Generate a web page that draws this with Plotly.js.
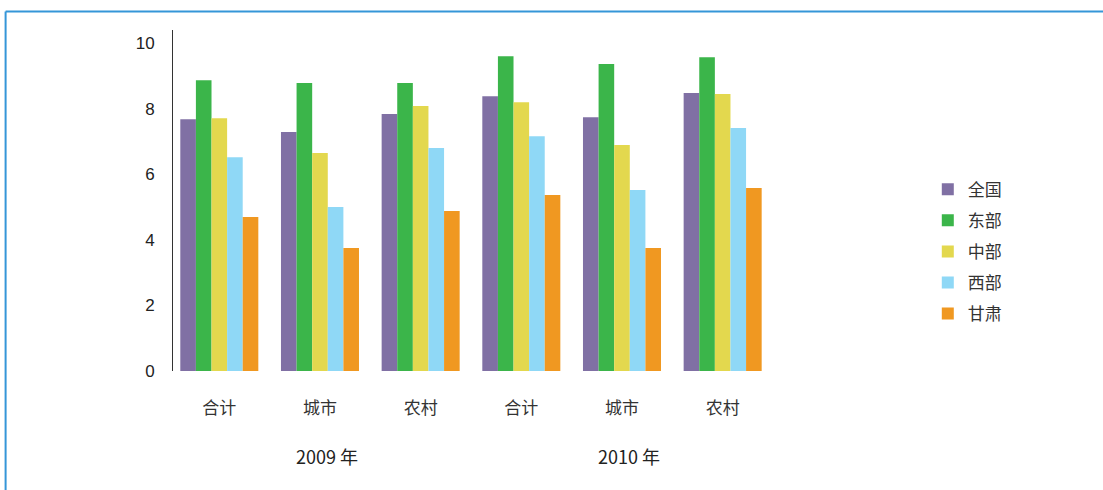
<!DOCTYPE html>
<html>
<head>
<meta charset="utf-8">
<script src="https://cdn.plot.ly/plotly-3.0.1.min.js"></script>
<style>
html,body{margin:0;padding:0;background:#fff;}
#chart{width:1103px;height:490px;}
</style>
</head>
<body>
<div id="chart"></div>
<script>
// Data
const categories = ["合计", "城市", "农村", "合计", "城市", "农村"];
const years = ["2009 年", "2010 年"];
const seriesNames = ["全国", "东部", "中部", "西部", "甘肃"];
const quanguo = [7.68, 7.29, 7.84, 8.38, 7.74, 8.48];
const dongbu  = [8.87, 8.78, 8.78, 9.60, 9.36, 9.57];
const zhongbu = [7.71, 6.65, 8.08, 8.20, 6.89, 8.45];
const xibu    = [6.52, 5.00, 6.80, 7.16, 5.52, 7.41];
const gansu   = [4.70, 3.75, 4.88, 5.37, 3.75, 5.58];
const yTicks  = [0, 2, 4, 6, 8, 10];

const seriesValues = [quanguo, dongbu, zhongbu, xibu, gansu];
const colors = ["#8070a4", "#3bb54a", "#e3d84e", "#8fd8f6", "#f09821"];
const xIdx = categories.map((c, i) => i);

const traces = seriesNames.map((name, k) => ({
  type: "bar",
  name: name,
  x: xIdx,
  y: seriesValues[k],
  marker: {color: colors[k], line: {width: 0}},
  legendgroup: "g" + k,
  hoverinfo: "skip"
}));

const latin = "'Liberation Sans', Arial, Helvetica, sans-serif";
const cjk = "'Noto Sans CJK SC', 'Liberation Sans', sans-serif";
const blue = "#3596d8";

const layout = {
  width: 1103,
  height: 490,
  paper_bgcolor: "#ffffff",
  plot_bgcolor: "#ffffff",
  margin: {l: 173, r: 330, t: 30, b: 119},
  barmode: "group",
  bargap: 0.225,
  bargroupgap: 0,
  showlegend: true,
  legend: {
    x: 1.258, y: 0.35, xanchor: "left", yanchor: "middle",
    font: {family: cjk, size: 17, color: "#333"},
    traceorder: "grouped",
    tracegroupgap: 6,
    bgcolor: "rgba(0,0,0,0)"
  },
  xaxis: {
    range: [-0.46, 5.5],
    tickvals: xIdx,
    ticktext: categories,
    ticks: "",
    showgrid: false,
    zeroline: false,
    showline: false,
    tickfont: {family: cjk, size: 17, color: "#333"},
    ticklabelstandoff: 25,
    fixedrange: true
  },
  yaxis: {
    range: [0, 10.4],
    tickvals: yTicks,
    ticktext: yTicks.map(String),
    ticks: "",
    showgrid: false,
    zeroline: false,
    showline: true,
    linecolor: "#333",
    linewidth: 1,
    tickfont: {family: latin, size: 17, color: "#222"},
    ticklabelstandoff: 14,
    fixedrange: true
  },
  annotations: years.map((t, i) => ({
    text: t,
    x: 1 + 3 * i + 0.07,
    xref: "x",
    y: -0.249,
    yref: "paper",
    showarrow: false,
    xanchor: "center",
    yanchor: "middle",
    font: {family: cjk, size: 18, color: "#222"}
  })),
  shapes: [
    {type: "line", xref: "paper", yref: "paper", x0: -0.279, x1: 1.6, y0: 1.054, y1: 1.054,
     line: {color: blue, width: 2}},
    {type: "line", xref: "paper", yref: "paper", x0: -0.279, x1: -0.279, y0: 1.054, y1: -0.4,
     line: {color: blue, width: 2}}
  ]
};

Plotly.newPlot("chart", traces, layout, {displayModeBar: false, staticPlot: true});
</script>
</body>
</html>
